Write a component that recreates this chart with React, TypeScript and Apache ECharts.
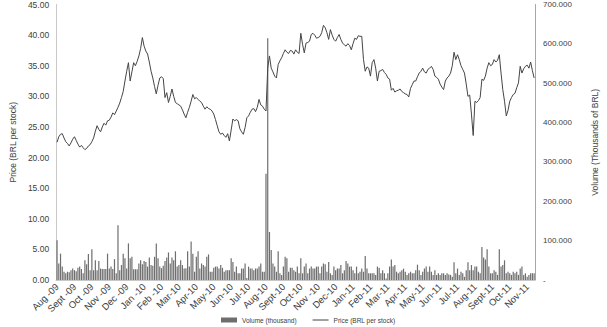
import React, { useEffect, useRef } from "react";
import * as echarts from "echarts";

const monthLabels = [
  "Aug -09", "Sept -09", "Oct -09", "Nov -09", "Dec -09", "Jan -10", "Feb -10",
  "Mar-10", "Apr-10", "May-10", "Jun-10", "Jul-10", "Aug-10", "Sept-10", "Oct-10",
  "Nov -10", "Dec-10", "Jan-11", "Feb-11", "Mar-11", "Apr-11", "May-11", "Jun-11",
  "Jul-11", "Aug-11", "Sept-11", "Oct-11", "Nov-11",
];
const pointsPerMonth = 10;

const priceValues = [
  22.5, 23.4, 23.8, 23.9, 23.2, 22.6, 22.3, 21.9, 22.4, 23.0,
  23.4, 22.8, 22.2, 21.7, 22.0, 21.6, 21.3, 21.5, 21.9, 22.1,
  22.6, 23.2, 24.3, 25.2, 24.6, 24.2, 25.0, 25.6, 25.3, 26.0,
  26.1, 26.6, 27.3, 27.0, 27.6, 28.2, 28.9, 29.8, 30.8, 32.5,
  34.1, 35.5, 32.5, 34.0, 35.5, 35.0, 35.7, 36.6, 37.8, 39.6,
  38.2, 37.4, 36.9, 35.6, 34.1, 33.0, 31.6, 30.4, 31.8, 33.0,
  33.2, 32.9, 29.8, 30.6, 29.0, 30.0, 31.2, 30.0, 29.0, 28.8,
  28.6, 28.4, 27.8, 27.1, 26.5, 27.4, 28.2, 29.2, 30.3, 29.6,
  29.8, 29.5, 29.2, 29.0, 28.4, 27.9, 28.3, 28.0, 27.9, 27.6,
  27.1, 26.2, 25.2, 24.2, 23.8, 24.0, 23.6, 23.3, 23.9, 22.7,
  24.5, 26.3, 26.0, 26.2, 26.0, 24.7, 24.2, 23.8, 24.9, 26.5,
  26.8, 27.4, 27.9, 28.0, 27.5, 28.2, 29.5, 28.6, 28.4, 27.9,
  27.6, 34.6, 36.6, 34.6, 34.0, 33.3, 33.0, 35.2, 35.8, 36.3,
  37.0, 37.6, 37.2, 37.0, 37.5, 37.4, 36.9, 37.6, 37.2, 37.0,
  40.3, 38.5, 37.1, 38.7, 38.8, 39.0, 40.1, 40.3, 40.0, 39.5,
  39.6, 39.8, 40.4, 41.6, 41.2, 40.4, 39.3, 40.9, 40.0, 39.3,
  39.0, 39.6, 40.1, 39.3, 38.7, 38.4, 38.2, 38.6, 38.3, 37.6,
  38.6, 39.5, 39.3, 39.9, 39.8, 39.8, 36.0, 34.1, 34.8, 34.6,
  33.3, 35.5, 36.0, 34.6, 32.5, 34.1, 34.2, 34.4, 33.9, 33.6,
  33.0, 32.8, 31.0, 31.3, 30.7, 30.9, 31.0, 31.2, 30.8, 30.6,
  30.4, 30.3, 29.9, 31.3, 31.9, 32.5, 32.5, 33.2, 33.8, 34.1,
  34.6, 34.0, 33.8, 34.4, 34.6, 34.9, 34.4, 33.3, 33.1, 32.8,
  32.0, 31.5, 31.1, 32.5, 33.0, 33.3, 33.8, 35.0, 37.2, 36.0,
  36.8, 36.0, 35.0, 34.4, 33.8, 32.0, 30.0, 30.2, 27.1, 23.6,
  29.2, 29.0, 29.3, 29.8, 32.8, 32.6, 33.3, 34.6, 35.5, 35.0,
  35.2, 36.0, 35.6, 35.9, 36.8, 33.8, 31.1, 29.2, 26.8, 27.7,
  29.2, 29.8, 30.3, 30.5, 31.4, 32.2, 34.9, 33.8, 34.5, 34.9,
  35.1, 34.6, 35.6, 34.2, 33.0,
];

const volumeValues = [
  101, 42, 67, 34, 21, 17, 21, 20, 25, 29,
  25, 22, 31, 34, 28, 17, 50, 40, 66, 25,
  78, 25, 50, 25, 48, 29, 28, 28, 28, 67,
  29, 34, 28, 53, 17, 139, 25, 38, 67, 55,
  29, 93, 55, 59, 27, 27, 27, 42, 50, 40,
  48, 46, 34, 57, 38, 36, 59, 93, 55, 34,
  30, 36, 48, 57, 70, 42, 57, 50, 73, 34,
  38, 50, 38, 29, 30, 73, 34, 98, 67, 21,
  59, 73, 29, 42, 38, 34, 59, 65, 21, 21,
  31, 34, 34, 29, 38, 31, 21, 25, 25, 25,
  55, 46, 21, 34, 17, 17, 29, 29, 42, 5,
  34, 29, 29, 25, 29, 29, 34, 42, 21, 21,
  270, 614, 122, 76, 42, 34, 21, 73, 17, 13,
  34, 59, 55, 21, 31, 31, 25, 21, 34, 17,
  55, 17, 34, 42, 17, 29, 34, 29, 29, 34,
  34, 17, 34, 42, 40, 21, 46, 17, 13, 34,
  25, 29, 29, 38, 17, 25, 48, 42, 34, 34,
  25, 17, 34, 17, 21, 29, 21, 61, 29, 17,
  17, 17, 17, 13, 34, 31, 17, 25, 17, 4,
  17, 34, 52, 34, 38, 21, 17, 21, 25, 29,
  21, 13, 17, 21, 17, 17, 25, 39, 25, 13,
  21, 29, 34, 21, 34, 21, 13, 25, 13, 17,
  13, 17, 17, 13, 17, 14, 13, 8, 45, 17,
  29, 13, 21, 17, 8, 25, 45, 25, 38, 25,
  34, 34, 21, 17, 84, 57, 52, 78, 34, 17,
  17, 25, 21, 13, 78, 34, 38, 50, 17, 21,
  17, 13, 21, 17, 21, 13, 29, 34, 13, 17,
  8, 13, 17, 17, 17,
];

const priceTicks = { min: 0, max: 45, interval: 5 };
const volumeTicks = { min: 0, max: 700, interval: 100 };

export default function App() {
  const ref = useRef<HTMLDivElement>(null);
  useEffect(() => {
    if (!ref.current) return;
    const chart = echarts.init(ref.current, null, { renderer: "svg" });
    const categories = priceValues.map((_, i) =>
      i % pointsPerMonth === 0 ? monthLabels[Math.floor(i / pointsPerMonth)] : ""
    );
    const font = "Liberation Sans, Arial, sans-serif";
    chart.setOption({
      animation: false,
      backgroundColor: "#ffffff",
      textStyle: { fontFamily: font },
      grid: { left: 47, right: 59, top: 3, bottom: 47 },
      legend: {
        left: 221,
        top: 316,
        padding: 0,
        itemWidth: 16,
        itemHeight: 5,
        itemGap: 16,
        textStyle: { fontSize: 6.5, lineHeight: 8, color: "#404040", fontFamily: font },
        data: [
          { name: "Volume (thousand)", icon: "rect" },
          {
            name: "Price (BRL per stock)",
            icon: "path://M0,0h0.01v0.01h-0.01Z M0,2H16V3H0Z M0,5h0.01v-0.01h-0.01Z",
          },
        ],
      },
      xAxis: {
        type: "category",
        data: categories,
        boundaryGap: true,
        axisLine: { show: true, lineStyle: { color: "#c8c8c8", width: 1 } },
        axisTick: { show: false },
        axisLabel: {
          interval: (idx: number) => idx % pointsPerMonth === 0,
          rotate: 45,
          fontSize: 9.5,
          color: "#404040",
          margin: 5,
          fontFamily: font,
        },
      },
      yAxis: [
        {
          type: "value",
          ...priceTicks,
          name: "Price (BRL per stock)",
          nameLocation: "middle",
          nameRotate: 90,
          nameGap: 38,
          nameTextStyle: { fontSize: 8.5, color: "#404040", fontFamily: font },
          axisLine: { show: true, lineStyle: { color: "#c8c8c8" } },
          axisTick: { show: false },
          splitLine: { show: false },
          axisLabel: {
            fontSize: 8.5,
            color: "#404040",
            margin: 7,
            formatter: (v: number) => v.toFixed(2),
          },
        },
        {
          type: "value",
          ...volumeTicks,
          position: "right",
          name: "Volume (Thousands of BRL)",
          nameLocation: "middle",
          nameRotate: 90,
          nameGap: 55,
          nameTextStyle: { fontSize: 8.5, color: "#404040", fontFamily: font },
          axisLine: { show: true, lineStyle: { color: "#a6a6a6" } },
          axisTick: { show: false },
          splitLine: { show: false },
          axisLabel: {
            fontSize: 8,
            color: "#404040",
            margin: 8,
            formatter: (v: number) => (v === 0 ? "-" : `${v}.000`),
          },
        },
      ],
      series: [
        {
          name: "Volume (thousand)",
          type: "bar",
          yAxisIndex: 1,
          data: volumeValues,
          barWidth: 1.2,
          itemStyle: { color: "#6e6e6e" },
        },
        {
          name: "Price (BRL per stock)",
          type: "line",
          yAxisIndex: 0,
          data: priceValues,
          symbol: "none",
          lineStyle: { color: "#454545", width: 1 },
          itemStyle: { color: "#454545" },
        },
      ],
    });
    return () => chart.dispose();
  }, []);
  return (
    <div
      ref={ref}
      style={{ position: "absolute", left: 0, top: 0, width: 607, height: 327, background: "#fff" }}
    />
  );
}
